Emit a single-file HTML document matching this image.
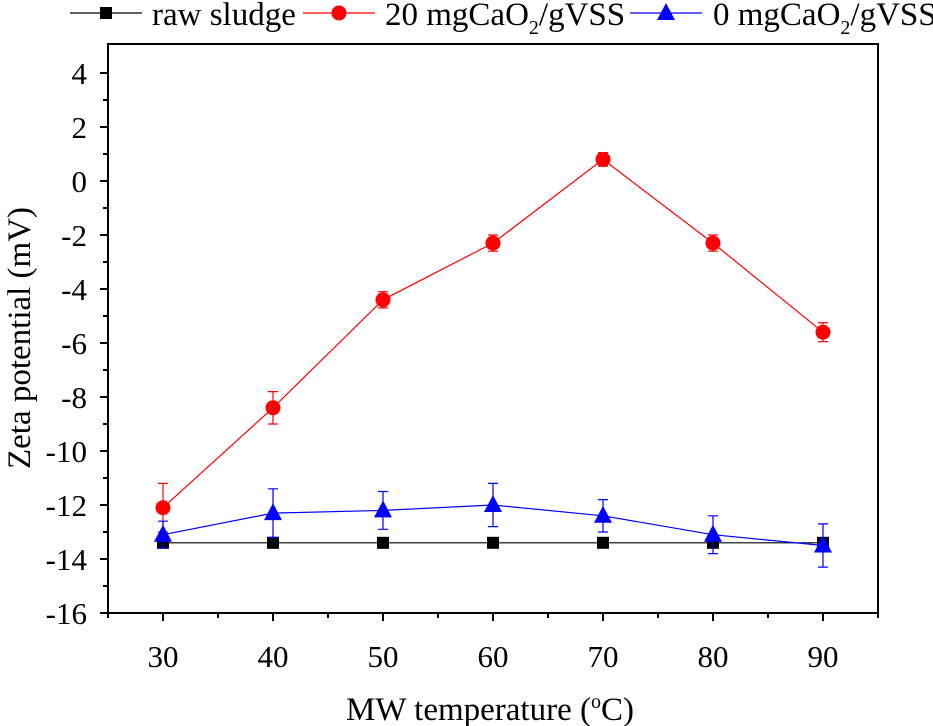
<!DOCTYPE html>
<html><head><meta charset="utf-8"><style>body{margin:0;background:#fff}svg{display:block;font-family:"Liberation Serif",serif}</style></head>
<body>
<svg id="c" width="933" height="726"></svg>
<script>
const xs=[30,40,50,60,70,80,90];
const rawVals=[-13.4,-13.4,-13.4,-13.4,-13.4,-13.4,-13.4];
const rawErr=[0,0,0,0,0,0,0];
const redVals=[-12.1,-8.4,-4.4,-2.3,0.8,-2.3,-5.6];
const redErr=[0.9,0.6,0.3,0.3,0.25,0.3,0.35];
const blueVals=[-13.1,-12.3,-12.2,-12.0,-12.4,-13.1,-13.5];
const blueErr=[0.5,0.9,0.7,0.8,0.6,0.7,0.8];
const yTicks=[4,2,0,-2,-4,-6,-8,-10,-12,-14,-16];
const xTicks=[30,40,50,60,70,80,90];
const NS="http://www.w3.org/2000/svg",svg=document.getElementById('c');
const X=v=>108+(v-25)*11, Y=v=>613-(v+16)*27;
function el(t,a,p){const e=document.createElementNS(NS,t);for(const k in a)e.setAttribute(k,a[k]);(p||svg).appendChild(e);return e;}
const frame=el('rect',{x:108,y:44,width:770,height:569,fill:'none',stroke:'#000','stroke-width':2});


for(let v=-16;v<=4;v++){const maj=v%2===0;el('line',{x1:108,x2:108-(maj?8:5),y1:Y(v),y2:Y(v),stroke:'#000','stroke-width':2});}
yTicks.forEach(v=>{const t=el('text',{x:87,y:Y(v)+11,'text-anchor':'end','font-size':31});t.textContent=v;

});
for(let v=25;v<=95;v+=5){const maj=v%10===0;el('line',{x1:X(v),x2:X(v),y1:613,y2:613+(maj?8:5),stroke:'#000','stroke-width':2});}
xTicks.forEach(v=>{const t=el('text',{x:X(v),y:667,'text-anchor':'middle','font-size':31});t.textContent=v;

});
const xt=el('text',{x:490,y:720,'text-anchor':'middle','font-size':33});
xt.innerHTML='MW temperature (<tspan dy="-12" font-size="20">o</tspan><tspan dy="12">C)</tspan>';


const yt=el('text',{transform:'translate(30,338) rotate(-90)','text-anchor':'middle','font-size':33});
yt.textContent='Zeta potential (mV)';


function marker(type,x,y,c,g){
 if(type==='sq')return el('rect',{x:x-6,y:y-6,width:12,height:12,fill:c},g);
 if(type==='ci')return el('circle',{cx:x,cy:y,r:7.5,fill:c},g);
 return el('polygon',{points:`${x},${y-10} ${x-9},${y+7} ${x+9},${y+7}`,fill:c},g);
}
function series(name,vals,err,c,type){
 const g=el('g',{});
 
 
 el('polyline',{points:xs.map((x,i)=>X(x)+','+Y(vals[i])).join(' '),fill:'none',stroke:c,'stroke-width':1.2},g);
 xs.forEach((x,i)=>{if(err[i]>0){const cx=X(x),a=Y(vals[i]+err[i]),b=Y(vals[i]-err[i]);
  el('path',{d:`M${cx},${a}V${b}M${cx-5},${a}H${cx+5}M${cx-5},${b}H${cx+5}`,stroke:c,'stroke-width':1.2,fill:'none'},g);}});
 xs.forEach((x,i)=>{const m=marker(type,X(x),Y(vals[i]),c,g);
 
 });
}
series('raw-sludge',rawVals,rawErr,'#000','sq');
series('caO2-20',redVals,redErr,'#f00','ci');
series('caO2-0',blueVals,blueErr,'#00f','tr');
function legend(name,x0,c,type,html,tx){
 const g=el('g',{});
 
 
 el('line',{x1:x0,x2:x0+72,y1:13,y2:13,stroke:c,'stroke-width':1.2},g);
 marker(type,x0+36,13,c,g);
 const t=el('text',{x:tx,y:25,'font-size':33},g);t.innerHTML=html;
}
legend('raw-sludge',70,'#000','sq','raw sludge',152);
legend('caO2-20',303,'#f00','ci','20 mgCaO<tspan dy="9" font-size="20">2</tspan><tspan dy="-9">/gVSS</tspan>',385);
legend('caO2-0',630,'#00f','tr','0 mgCaO<tspan dy="9" font-size="20">2</tspan><tspan dy="-9">/gVSS</tspan>',713);
</script>
</body></html>
